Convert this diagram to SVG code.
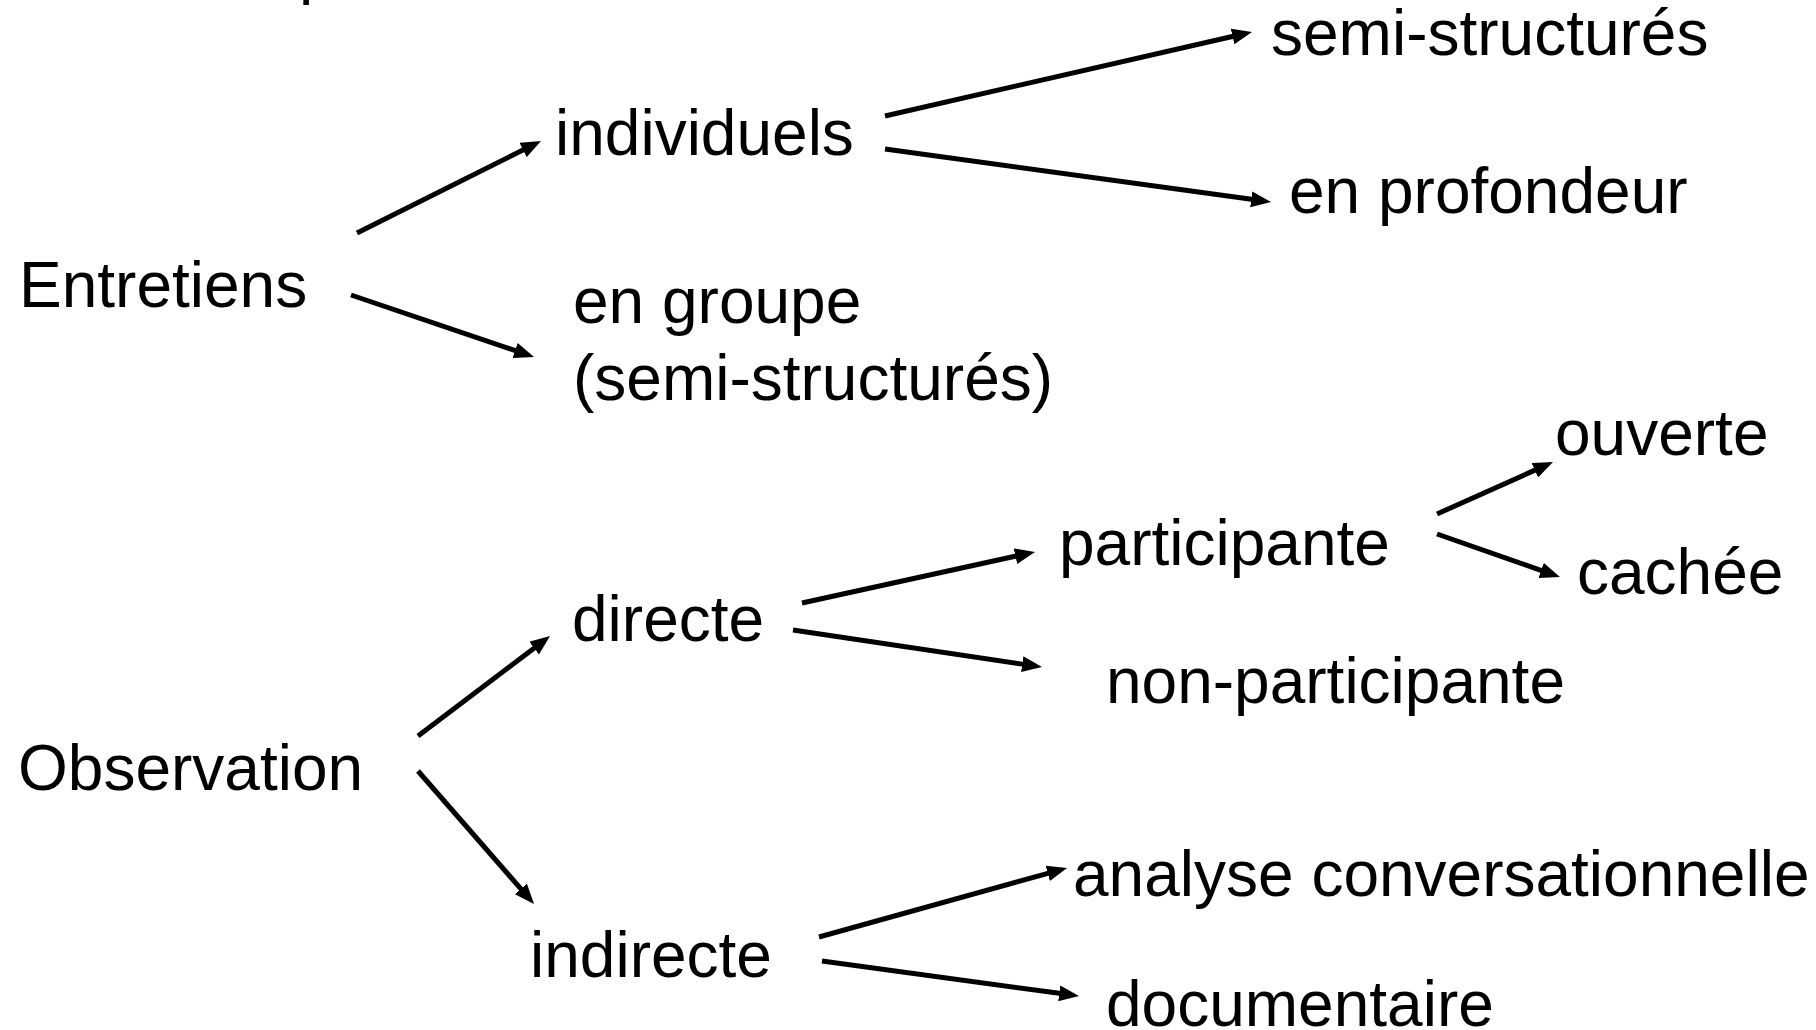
<svg xmlns="http://www.w3.org/2000/svg" width="1816" height="1030" viewBox="0 0 1816 1030">
<style>
  .t { font-family: "Liberation Sans", Arial, sans-serif; font-size: 64px; fill: #000; }
  .c { stroke: #000; stroke-width: 5; fill: none; marker-end: url(#ah); }
</style>
<defs>
  <marker id="ah" markerUnits="userSpaceOnUse" markerWidth="20" markerHeight="16" refX="2" refY="8" orient="auto">
    <path d="M0,0 L20,8 L0,16 z" fill="#000"/>
  </marker>
</defs>
<rect width="1816" height="1030" fill="#fff"/>
<text class="t" x="299" y="-8">p</text>
<g id="connectors">
  <line class="c" x1="357" y1="233" x2="524.9" y2="149.1"/>
  <line class="c" x1="351" y1="295" x2="517" y2="351.2"/>
  <line class="c" x1="885" y1="116" x2="1234.5" y2="36"/>
  <line class="c" x1="885" y1="149" x2="1253.2" y2="199.6"/>
  <line class="c" x1="1437" y1="514" x2="1536.6" y2="469.4"/>
  <line class="c" x1="1437" y1="534" x2="1543" y2="571.1"/>
  <line class="c" x1="802" y1="603" x2="1017.4" y2="555.8"/>
  <line class="c" x1="793" y1="630" x2="1024.2" y2="664.4"/>
  <line class="c" x1="418" y1="736" x2="535.7" y2="646.9"/>
  <line class="c" x1="418" y1="771" x2="522.2" y2="890.4"/>
  <line class="c" x1="819" y1="937" x2="1049.7" y2="872.8"/>
  <line class="c" x1="822" y1="961" x2="1061.2" y2="993.6"/>
</g>
<g id="entretiens"><text class="t" x="19" y="307">Entretiens</text></g>
<g id="individuels"><text class="t" x="555" y="155">individuels</text></g>
<g id="en-groupe"><text class="t" x="573" y="323">en groupe</text><text class="t" x="573" y="400">(semi-structurés)</text></g>
<g id="semi-structures"><text class="t" x="1271" y="55">semi-structurés</text></g>
<g id="en-profondeur"><text class="t" x="1289" y="213">en profondeur</text></g>
<g id="observation"><text class="t" x="18" y="790">Observation</text></g>
<g id="directe"><text class="t" x="572" y="641">directe</text></g>
<g id="indirecte"><text class="t" x="530" y="977">indirecte</text></g>
<g id="participante"><text class="t" x="1059" y="565">participante</text></g>
<g id="non-participante"><text class="t" x="1106" y="703">non-participante</text></g>
<g id="ouverte"><text class="t" x="1555" y="455">ouverte</text></g>
<g id="cachee"><text class="t" x="1577" y="594">cachée</text></g>
<g id="analyse"><text class="t" x="1073" y="896">analyse conversationnelle</text></g>
<g id="documentaire"><text class="t" x="1106" y="1026">documentaire</text></g>
</svg>
